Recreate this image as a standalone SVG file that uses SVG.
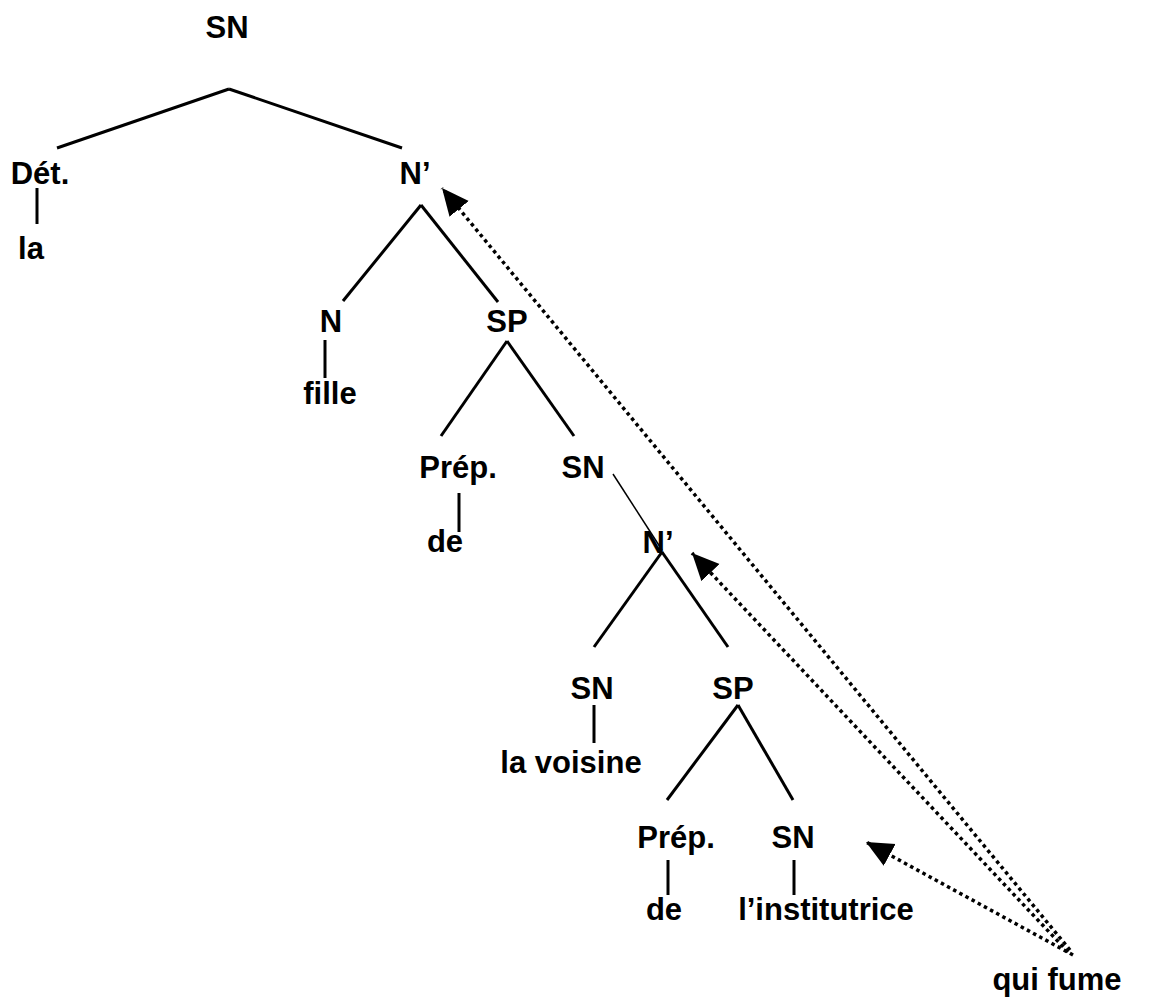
<svg xmlns="http://www.w3.org/2000/svg" width="1152" height="999" viewBox="0 0 1152 999">
<defs>
<style>
text{font-family:"Liberation Sans",Arial,sans-serif;font-weight:bold;font-size:31px;fill:#000;text-anchor:middle}
.e{stroke:#000;stroke-width:3;fill:none}
.t{stroke:#000;stroke-width:1.5;fill:none}
.d{stroke:#000;stroke-width:3.5;fill:none;stroke-dasharray:3.5 3.5}
</style>
<marker id="ah" markerUnits="userSpaceOnUse" markerWidth="28" markerHeight="26" viewBox="0 0 27 24" refX="26" refY="12" orient="auto">
<path d="M0,0 L26,12 L0,24 z" fill="#000"/>
</marker>
</defs>
<rect width="1152" height="999" fill="#fff"/>
<g id="connectors">
<line class="e" x1="229" y1="89" x2="57" y2="148"/>
<line class="e" x1="229" y1="89" x2="402" y2="148"/>
<line class="e" x1="37" y1="188" x2="37" y2="224"/>
<line class="e" x1="421" y1="205" x2="343" y2="301"/>
<line class="e" x1="421" y1="205" x2="498" y2="302"/>
<line class="e" x1="325" y1="340" x2="325" y2="378"/>
<line class="e" x1="507" y1="341" x2="441" y2="436"/>
<line class="e" x1="507" y1="341" x2="574" y2="436"/>
<line class="e" x1="459" y1="493" x2="459" y2="532"/>
<line class="t" x1="613" y1="474" x2="662" y2="550"/>
<line class="e" x1="662" y1="552" x2="594" y2="647"/>
<line class="e" x1="662" y1="552" x2="728" y2="647"/>
<line class="e" x1="594" y1="705" x2="594" y2="743"/>
<line class="e" x1="738" y1="705" x2="667" y2="800"/>
<line class="e" x1="738" y1="705" x2="793" y2="800"/>
<line class="e" x1="668" y1="860" x2="668" y2="895"/>
<line class="e" x1="794" y1="860" x2="794" y2="895"/>
<line class="d" x1="1070" y1="950" x2="442" y2="188" marker-end="url(#ah)"/>
<line class="d" x1="1068" y1="952" x2="692" y2="553" marker-end="url(#ah)"/>
<line class="d" x1="1073" y1="955" x2="866" y2="842" marker-end="url(#ah)"/>
</g>
<g id="n-sn1"><text x="227" y="38">SN</text></g>
<g id="n-det"><text x="40" y="184">Dét.</text></g>
<g id="n-nbar1"><text x="415" y="184">N’</text></g>
<g id="n-la"><text x="31" y="259">la</text></g>
<g id="n-n"><text x="331" y="332">N</text></g>
<g id="n-fille"><text x="330" y="404">fille</text></g>
<g id="n-sp1"><text x="507" y="332">SP</text></g>
<g id="n-prep1"><text x="458" y="478">Prép.</text></g>
<g id="n-sn2"><text x="583" y="478">SN</text></g>
<g id="n-de1"><text x="445" y="552">de</text></g>
<g id="n-nbar2"><text x="658" y="553">N’</text></g>
<g id="n-sn3"><text x="592" y="699">SN</text></g>
<g id="n-sp2"><text x="733" y="699">SP</text></g>
<g id="n-voisine"><text x="571" y="773">la voisine</text></g>
<g id="n-prep2"><text x="676" y="848">Prép.</text></g>
<g id="n-sn4"><text x="793" y="848">SN</text></g>
<g id="n-de2"><text x="664" y="920">de</text></g>
<g id="n-inst"><text x="826" y="920">l’institutrice</text></g>
<g id="n-qui"><text x="1057" y="990">qui fume</text></g>
</svg>
